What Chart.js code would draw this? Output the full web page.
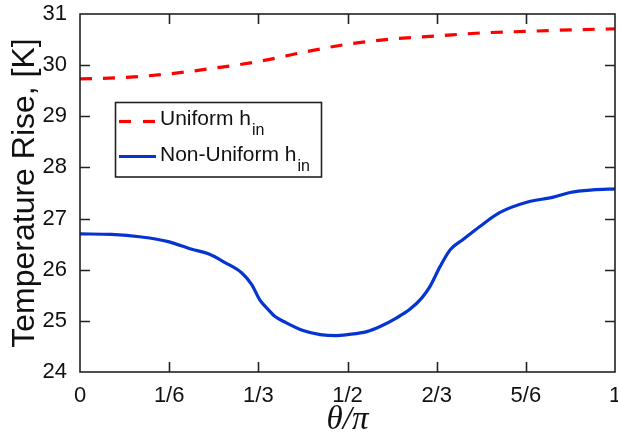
<!DOCTYPE html>
<html>
<head>
<meta charset="utf-8">
<script src="https://cdn.jsdelivr.net/npm/chart.js@4/dist/chart.umd.min.js"></script>
<style>
  html, body { margin: 0; padding: 0; background: #fff; }
  #wrap { width: 618px; height: 444px; }
</style>
</head>
<body>
<div id="wrap"><canvas id="c" width="618" height="444"></canvas></div>
<script>
// Angular position (theta/pi) and temperature rise for each inlet model
const uniformTheta = [0, 0.083, 0.167, 0.25, 0.333, 0.417, 0.5, 0.583, 0.667, 0.75, 0.833, 0.917, 1];
const uniformRise  = [29.73, 29.76, 29.83, 29.94, 30.07, 30.25, 30.41, 30.51, 30.57, 30.63, 30.66, 30.69, 30.71];

const nonUniformTheta = [0, 0.059, 0.115, 0.165, 0.209, 0.24, 0.271, 0.302, 0.321, 0.336, 0.352, 0.364,
  0.386, 0.417, 0.449, 0.48, 0.5, 0.536, 0.561, 0.592, 0.617, 0.639, 0.654, 0.673, 0.692, 0.716,
  0.748, 0.785, 0.835, 0.885, 0.916, 0.959, 1];
const nonUniformRise = [26.70, 26.69, 26.64, 26.55, 26.40, 26.31, 26.14, 25.94, 25.71, 25.41, 25.22, 25.09,
  24.96, 24.81, 24.73, 24.71, 24.73, 24.79, 24.89, 25.06, 25.23, 25.45, 25.67, 26.06, 26.39, 26.59,
  26.85, 27.12, 27.32, 27.42, 27.51, 27.56, 27.58];

const xTickValues = [0, 1/6, 1/3, 1/2, 2/3, 5/6, 1];
const xTickLabels = ['0', '1/6', '1/3', '1/2', '2/3', '5/6', '1'];
const yTickValues = [24, 25, 26, 27, 28, 29, 30, 31];

const seriesNames = ['Uniform h', 'Non-Uniform h'];
const seriesSub = 'in';

const RED = '#ff0000';
const BLUE = '#0534d2';
const INK = '#222222';
const SANS = '"Liberation Sans", Arial, sans-serif';

const toPoints = (xs, ys) => xs.map((x, i) => ({ x, y: ys[i] }));

// Keep the plot box fixed: tick labels may overhang the frame edges
function noOverhang(scale) {
  scale.paddingLeft = 0;
  scale.paddingRight = 0;
  scale.paddingTop = 0;
  scale.paddingBottom = 0;
}

// Box frame with inward-pointing ticks on all four sides
const frameTicks = {
  id: 'frameTicks',
  afterDatasetsDraw(chart) {
    const { ctx, chartArea: a, scales: { x, y } } = chart;
    const len = 10;
    ctx.save();
    ctx.strokeStyle = INK;
    ctx.lineWidth = 1.6;
    ctx.strokeRect(a.left, a.top, a.right - a.left, a.bottom - a.top);
    ctx.beginPath();
    xTickValues.forEach(v => {
      if (v <= 0 || v >= 1) return;
      const px = Math.round(x.getPixelForValue(v)) + 0.5;
      ctx.moveTo(px, a.bottom); ctx.lineTo(px, a.bottom - len);
      ctx.moveTo(px, a.top); ctx.lineTo(px, a.top + len);
    });
    yTickValues.forEach(v => {
      if (v <= 24 || v >= 31) return;
      const py = Math.round(y.getPixelForValue(v)) + 0.5;
      ctx.moveTo(a.left, py); ctx.lineTo(a.left + len, py);
      ctx.moveTo(a.right, py); ctx.lineTo(a.right - len, py);
    });
    ctx.stroke();
    ctx.restore();
  }
};

// Legend box with subscripted labels
const subLegend = {
  id: 'subLegend',
  afterDraw(chart) {
    const { ctx } = chart;
    const bx = 115.5, by = 102.5, bw = 206, bh = 74.5;
    ctx.save();
    ctx.fillStyle = '#fff';
    ctx.fillRect(bx, by, bw, bh);
    ctx.strokeStyle = INK;
    ctx.lineWidth = 1.6;
    ctx.strokeRect(bx, by, bw, bh);

    const rows = [
      { color: RED, dash: [12, 12], lineY: 121.5, base: 125, subBase: 134.5 },
      { color: BLUE, dash: [], lineY: 156.5, base: 160.5, subBase: 170.5 }
    ];
    rows.forEach((r, i) => {
      ctx.strokeStyle = r.color;
      ctx.lineWidth = 3.2;
      ctx.setLineDash(r.dash);
      ctx.beginPath();
      ctx.moveTo(119, r.lineY);
      ctx.lineTo(156, r.lineY);
      ctx.stroke();
      ctx.setLineDash([]);

      ctx.fillStyle = '#111';
      ctx.textBaseline = 'alphabetic';
      ctx.textAlign = 'left';
      ctx.font = '21px ' + SANS;
      ctx.fillText(seriesNames[i], 160, r.base);
      const w = ctx.measureText(seriesNames[i]).width;
      ctx.font = '16px ' + SANS;
      ctx.fillText(seriesSub, 160 + w + 1, r.subBase);
    });
    ctx.restore();
  }
};

new Chart(document.getElementById('c'), {
  type: 'line',
  data: {
    datasets: [
      {
        label: 'Uniform h_in',
        data: toPoints(uniformTheta, uniformRise),
        borderColor: RED,
        borderWidth: 3.2,
        borderDash: [12, 11],
        pointRadius: 0,
        cubicInterpolationMode: 'monotone',
        fill: false
      },
      {
        label: 'Non-Uniform h_in',
        data: toPoints(nonUniformTheta, nonUniformRise),
        borderColor: BLUE,
        borderWidth: 3.2,
        pointRadius: 0,
        cubicInterpolationMode: 'monotone',
        fill: false
      }
    ]
  },
  options: {
    responsive: false,
    animation: false,
    devicePixelRatio: 1,
    layout: { padding: { top: 14, right: 3, left: 0, bottom: 0 } },
    plugins: { legend: { display: false }, tooltip: { enabled: false } },
    scales: {
      x: {
        type: 'linear',
        min: 0, max: 1,
        afterBuildTicks(scale) { scale.ticks = xTickValues.map(v => ({ value: v })); },
        afterFit(scale) { scale.height = 72; noOverhang(scale); },
        grid: { display: false, drawTicks: false },
        border: { display: false },
        ticks: {
          padding: 11,
          color: '#111',
          font: { family: SANS, size: 22 },
          maxRotation: 0,
          autoSkip: false,
          callback: (v, i) => xTickLabels[i]
        },
        title: {
          display: true,
          text: 'θ/π',
          color: '#111',
          font: { family: '"Liberation Serif", "Times New Roman", serif', size: 33, style: 'italic', lineHeight: 1 },
          padding: { top: 4, bottom: 7 }
        }
      },
      y: {
        type: 'linear',
        min: 24, max: 31,
        afterBuildTicks(scale) { scale.ticks = yTickValues.map(v => ({ value: v })); },
        afterFit(scale) { scale.width = 80; noOverhang(scale); },
        grid: { display: false, drawTicks: false },
        border: { display: false },
        ticks: {
          padding: 13,
          color: '#111',
          font: { family: SANS, size: 22 }
        },
        title: {
          display: true,
          text: 'Temperature Rise, [K]',
          color: '#111',
          font: { family: SANS, size: 32, lineHeight: 1 },
          padding: { top: 9, bottom: 0 }
        }
      }
    }
  },
  plugins: [frameTicks, subLegend]
});
</script>
</body>
</html>
